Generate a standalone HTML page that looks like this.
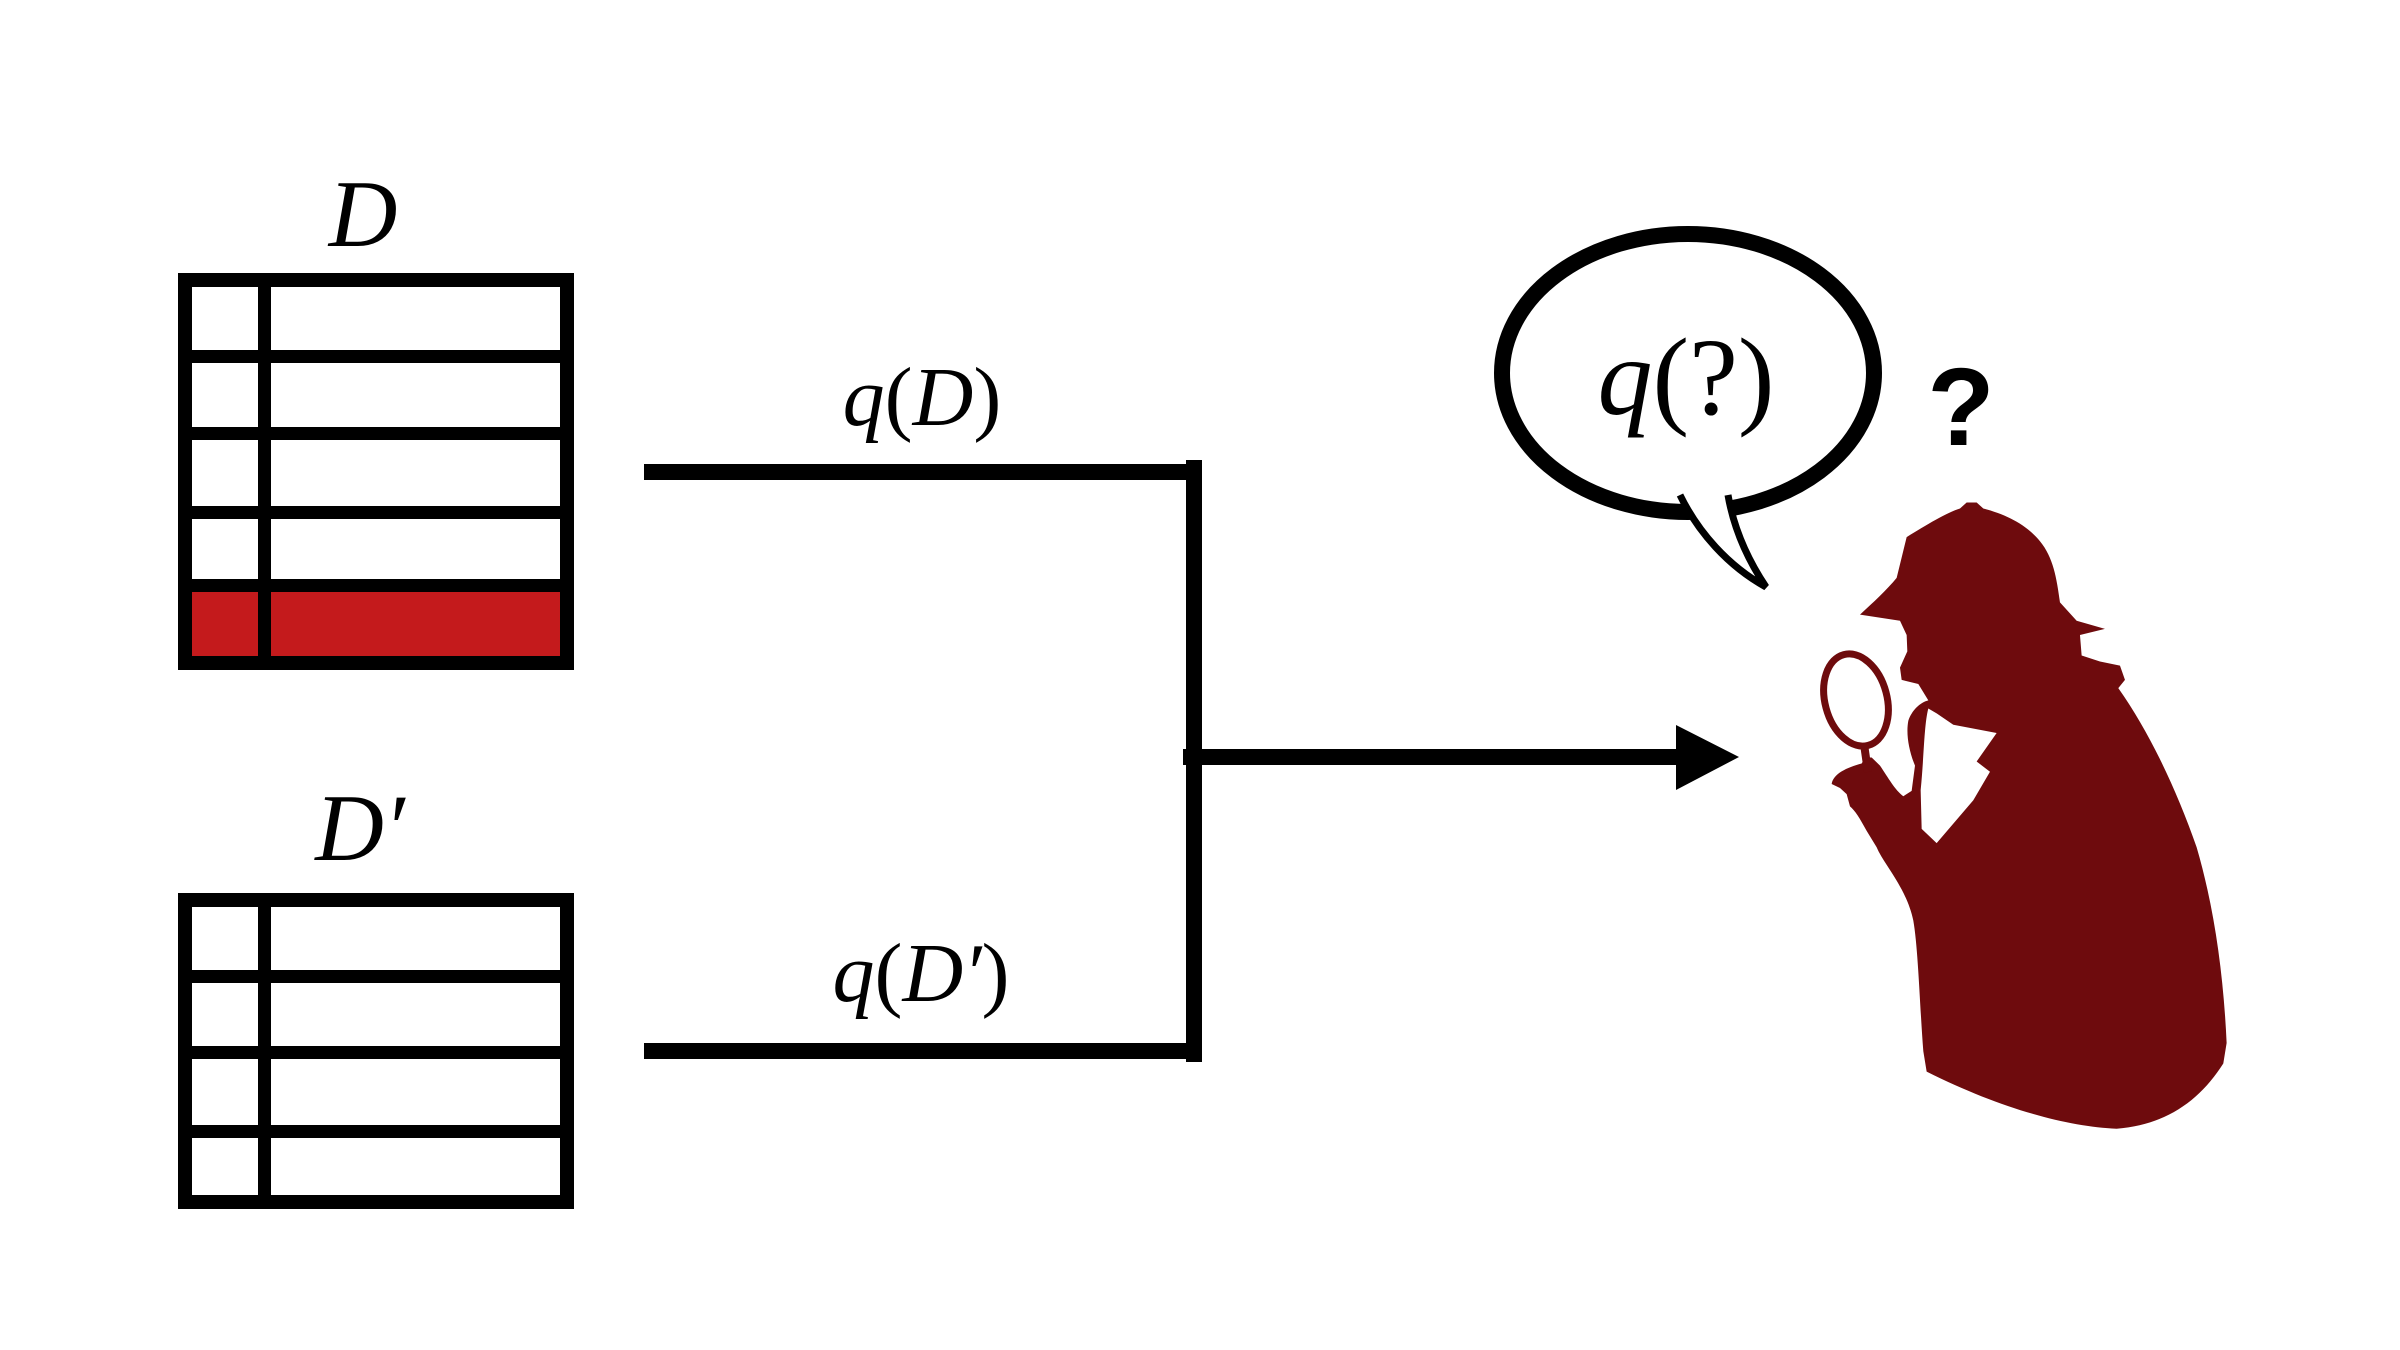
<!DOCTYPE html>
<html><head><meta charset="utf-8"><style>
html,body{margin:0;padding:0;background:#fff;}
svg{display:block;}
.m{font-family:"Liberation Serif",serif;font-style:italic;}
</style></head><body>
<svg width="2400" height="1350" viewBox="0 0 2400 1350" xmlns="http://www.w3.org/2000/svg">
<rect width="2400" height="1350" fill="#fff"/>
<!-- Table D -->
<rect x="192" y="592" width="368" height="65" fill="#c41a1c"/>
<rect x="185" y="280" width="382" height="383" fill="none" stroke="#000" stroke-width="14"/>
<g fill="#000">
<rect x="185" y="350" width="382" height="13"/>
<rect x="185" y="427" width="382" height="13"/>
<rect x="185" y="506" width="382" height="13"/>
<rect x="185" y="579" width="382" height="13"/>
<rect x="258" y="280" width="13" height="383"/>
</g>
<!-- Table D' -->
<rect x="185" y="900" width="382" height="302" fill="none" stroke="#000" stroke-width="14"/>
<g fill="#000">
<rect x="185" y="970" width="382" height="13"/>
<rect x="185" y="1046" width="382" height="13"/>
<rect x="185" y="1125" width="382" height="13"/>
<rect x="258" y="900" width="13" height="302"/>
</g>
<!-- labels -->
<text class="m" x="363" y="246" font-size="95" text-anchor="middle">D</text>
<text class="m" x="360" y="860" font-size="95" text-anchor="middle">D′</text>
<text class="m" x="922" y="425" font-size="84" text-anchor="middle"><tspan>q</tspan><tspan font-style="normal">(</tspan>D<tspan font-style="normal">)</tspan></text>
<text class="m" x="921" y="1001" font-size="84" text-anchor="middle"><tspan>q</tspan><tspan font-style="normal">(</tspan>D′<tspan font-style="normal">)</tspan></text>
<!-- connectors -->
<g fill="#000">
<rect x="644" y="464" width="558" height="16"/>
<rect x="644" y="1043" width="558" height="16"/>
<rect x="1186" y="460" width="16" height="602"/>
<rect x="1183" y="749" width="500" height="16"/>
<polygon points="1676,725 1739,757 1676,790"/>
</g>
<!-- speech bubble -->
<ellipse cx="1688" cy="373" rx="186" ry="139" fill="#fff" stroke="#000" stroke-width="16"/>
<path d="M1680,495 C1698,532 1728,566 1766,587 C1748,560 1734,530 1728,495" fill="#fff" stroke="#000" stroke-width="7"/>
<text class="m" x="1686" y="414" font-size="110" text-anchor="middle"><tspan>q</tspan><tspan font-style="normal">(?)</tspan></text>
<text x="1961" y="445" font-size="110" font-weight="bold" text-anchor="middle" font-family="Liberation Sans, sans-serif">?</text>
<!-- detective -->
<g transform="translate(1800,480) scale(0.3333,0.408)" fill="#6e0b0d">
<path d="M320,140 C380,110 440,80 480,70 L500,55 L530,55 L550,70 C620,85 680,110 720,150 C760,190 770,240 780,300 L830,345 L915,365 L840,380 L845,430 L900,445 L960,455 L975,490 L955,510 C1050,620 1130,760 1190,900 C1240,1040 1270,1200 1280,1380 L1270,1430 C1200,1520 1100,1580 950,1590 C800,1585 600,1540 380,1450 L370,1400 C360,1300 355,1150 340,1080 C320,1000 250,940 230,900 L200,860 C180,830 165,810 150,800 L140,770 L120,755 L95,745 C100,720 140,705 185,695 L195,680 L215,680 L240,700 C265,730 285,760 310,775 L335,762 L345,700 C325,660 318,620 325,590 C335,565 360,545 385,540 L355,500 L305,490 L300,460 L322,420 L320,380 L300,345 L180,330 C220,300 260,270 290,240 L305,190 Z"/>
<path fill="#fff" d="M365,855 L410,890 L520,785 L570,715 L530,690 L590,620 L460,600 L410,572 L385,560 C372,600 372,680 362,760 Z"/>
</g>
<ellipse cx="1856" cy="700" rx="31" ry="47" transform="rotate(-15 1856 700)" fill="none" stroke="#6e0b0d" stroke-width="7"/>
<path d="M1864,744 L1868,772" stroke="#6e0b0d" stroke-width="8"/>
</svg>
</body></html>
